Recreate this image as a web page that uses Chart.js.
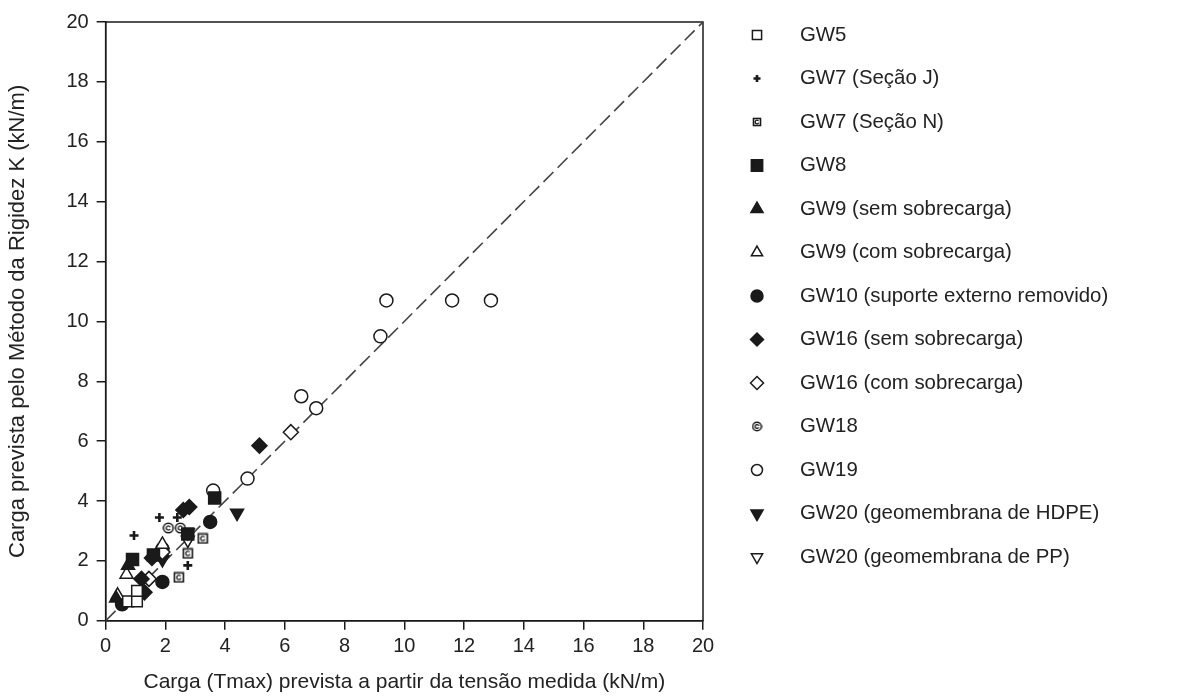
<!DOCTYPE html>
<html>
<head>
<meta charset="utf-8">
<script src="https://cdn.jsdelivr.net/npm/chart.js@4.4.1/dist/chart.umd.min.js"></script>
<style>
  html, body { margin: 0; padding: 0; background: #fff; }
  #wrap { width: 1179px; height: 697px; }
</style>
</head>
<body>
<div id="wrap"><canvas id="scatter"></canvas></div>
<script>
// series labels (legend order)
const seriesNames = [
  "GW5",
  "GW7 (Seção J)",
  "GW7 (Seção N)",
  "GW8",
  "GW9 (sem sobrecarga)",
  "GW9 (com sobrecarga)",
  "GW10 (suporte externo removido)",
  "GW16 (sem sobrecarga)",
  "GW16 (com sobrecarga)",
  "GW18",
  "GW19",
  "GW20 (geomembrana de HDPE)",
  "GW20 (geomembrana de PP)"
];

// [Tmax from strain, K-stiffness prediction] in kN/m
const gw5 = [[0.75, 0.65], [1.05, 0.65], [1.05, 1.0]];
const gw7J = [[0.95, 2.85], [1.8, 3.45], [2.4, 3.45], [2.75, 1.85]];
const gw7N = [[2.45, 1.45], [2.75, 2.25], [3.25, 2.75]];
const gw8 = [[0.9, 2.05], [2.75, 2.9], [3.65, 4.1], [1.6, 2.2]];
const gw9Sem = [[0.75, 1.85], [0.35, 0.75]];
const gw9Com = [[0.7, 1.55], [0.4, 0.85], [1.9, 2.55]];
const gw10 = [[1.9, 1.3], [3.5, 3.3], [0.55, 0.55]];
const gw16Sem = [[1.55, 2.1], [1.3, 0.95], [1.2, 1.4], [2.8, 3.8], [2.6, 3.7], [5.15, 5.85]];
const gw16Com = [[1.45, 1.4], [6.2, 6.3], [1.9, 2.3]];
const gw18 = [[2.1, 3.1], [2.5, 3.1]];
const gw19 = [[9.4, 10.7], [11.6, 10.7], [12.9, 10.7], [9.2, 9.5], [6.55, 7.5], [7.05, 7.1], [4.75, 4.75], [3.6, 4.35], [1.9, 2.4]];
const gw20HDPE = [[4.4, 3.6], [2.75, 2.95], [1.9, 2.05]];
const gw20PP = [[2.75, 2.7], [1.9, 2.15]];

// 1:1 reference line
const identityLine = [[0, 0], [20, 20]];
const tickValues = [0, 2, 4, 6, 8, 10, 12, 14, 16, 18, 20];

const INK = "#1a1a1a";

// little drawn symbols for the two patterned markers
function boxIcon(size) {
  const c = document.createElement("canvas");
  c.width = c.height = size;
  const g = c.getContext("2d");
  g.fillStyle = "#fff";
  g.fillRect(1, 1, size - 2, size - 2);
  g.strokeStyle = INK;
  g.lineWidth = 1.6;
  g.strokeRect(1.5, 1.5, size - 3, size - 3);
  g.lineWidth = 1.3;
  g.beginPath();
  g.arc(size / 2, size / 2, size * 0.18, 0.4, Math.PI * 1.8);
  g.stroke();
  return c;
}
function ringIcon(size) {
  const c = document.createElement("canvas");
  c.width = c.height = size;
  const g = c.getContext("2d");
  g.fillStyle = "#fff";
  g.strokeStyle = INK;
  g.lineWidth = 1.5;
  g.beginPath();
  g.arc(size / 2, size / 2, size / 2 - 1.2, 0, Math.PI * 2);
  g.fill();
  g.stroke();
  g.lineWidth = 1.2;
  g.beginPath();
  g.arc(size / 2, size / 2, size * 0.17, 0.5, Math.PI * 1.9);
  g.stroke();
  return c;
}

const pts = arr => arr.map(p => ({ x: p[0], y: p[1] }));

// marker look for each series, in legend order
const markers = [
  { data: gw5, style: "rect", r: 7.5, fill: "#fff", lr: 6.5 },
  { data: gw7J, style: "cross", r: 4.5, fill: INK, bw: 2.6, lr: 3.5 },
  { data: gw7N, style: boxIcon(12), icon: boxIcon(10) },
  { data: gw8, style: "rect", r: 8.5, fill: INK, lr: 8 },
  { data: gw9Sem, style: "triangle", r: 7.5, fill: INK, lr: 7 },
  { data: gw9Com, style: "triangle", r: 7.5, fill: "#fff", lr: 6.5 },
  { data: gw10, style: "circle", r: 6.5, fill: INK, lr: 6 },
  { data: gw16Sem, style: "rectRot", r: 7.5, fill: INK, lr: 6.5 },
  { data: gw16Com, style: "rectRot", r: 7.5, fill: "#fff", lr: 6.5 },
  { data: gw18, style: ringIcon(12), icon: ringIcon(11) },
  { data: gw19, style: "circle", r: 6.5, fill: "#fff", lr: 5.5 },
  { data: gw20HDPE, style: "triangle", rot: 180, r: 7.5, fill: INK, lr: 7 },
  { data: gw20PP, style: "triangle", rot: 180, r: 7.5, fill: "#fff", lr: 6.5 }
];

const datasets = markers.map((m, i) => ({
  type: "scatter",
  label: seriesNames[i],
  data: pts(m.data),
  pointStyle: m.style,
  rotation: m.rot || 0,
  pointRadius: m.r || 6,
  pointHoverRadius: m.r || 6,
  backgroundColor: m.fill || "#fff",
  borderColor: INK,
  pointBorderWidth: m.bw || 1.5,
  order: 0
}));

datasets.push({
  type: "line",
  label: "1:1",
  data: pts(identityLine),
  borderColor: "#444",
  borderWidth: 1.6,
  borderDash: [14, 6],
  pointRadius: 0,
  fill: false,
  order: 10
});

// right-hand key, drawn on the canvas
const keyPlugin = {
  id: "sideKey",
  afterDraw(chart) {
    const ctx = chart.ctx;
    ctx.save();
    ctx.font = "20.4px 'Liberation Sans', Arial, sans-serif";
    ctx.textBaseline = "middle";
    ctx.textAlign = "left";
    markers.forEach((m, i) => {
      const y = 35 + i * 43.5;
      const x = 757;
      ctx.fillStyle = m.fill || "#fff";
      ctx.strokeStyle = INK;
      ctx.lineWidth = m.bw || 1.5;
      Chart.helpers.drawPoint(ctx, {
        pointStyle: m.icon || m.style,
        rotation: m.rot || 0,
        radius: m.lr || 6,
        borderWidth: m.bw || 1.5
      }, x, y);
      ctx.fillStyle = "#222";
      ctx.fillText(seriesNames[i], 800, y);
    });
    ctx.restore();
  }
};

// closes the box on top and right
const framePlugin = {
  id: "frame",
  beforeDatasetsDraw(chart) {
    const a = chart.chartArea;
    const ctx = chart.ctx;
    ctx.save();
    ctx.strokeStyle = INK;
    ctx.lineWidth = 1.5;
    ctx.strokeRect(a.left, a.top, a.right - a.left, a.bottom - a.top);
    ctx.restore();
  }
};

const tickFont = { family: "'Liberation Sans', Arial, sans-serif", size: 20 };

new Chart(document.getElementById("scatter"), {
  type: "scatter",
  data: { datasets },
  plugins: [framePlugin, keyPlugin],
  options: {
    responsive: true,
    maintainAspectRatio: false,
    animation: false,
    layout: { padding: { top: 22, right: 476, bottom: 0, left: 3 } },
    plugins: { legend: { display: false }, tooltip: { enabled: false } },
    scales: {
      x: {
        type: "linear",
        min: 0,
        max: 20,
        afterBuildTicks: s => { s.ticks = tickValues.map(v => ({ value: v })); },
        ticks: { font: tickFont, color: "#222", padding: 5, maxRotation: 0 },
        grid: { drawOnChartArea: false, drawTicks: true, tickLength: 9, color: INK, lineWidth: 1.5 },
        border: { display: true, color: INK, width: 1.5 },
        title: {
          display: true,
          text: "Carga (Tmax) prevista a partir da tensão medida (kN/m)",
          font: { family: "'Liberation Sans', Arial, sans-serif", size: 21 },
          color: "#222",
          padding: { top: 6, bottom: 2 }
        }
      },
      y: {
        type: "linear",
        min: 0,
        max: 20,
        afterBuildTicks: s => { s.ticks = tickValues.map(v => ({ value: v })); },
        ticks: { font: tickFont, color: "#222", padding: 8 },
        grid: { drawOnChartArea: false, drawTicks: true, tickLength: 9, color: INK, lineWidth: 1.5 },
        border: { display: true, color: INK, width: 1.5 },
        title: {
          display: true,
          text: "Carga prevista pelo Método da Rigidez K (kN/m)",
          font: { family: "'Liberation Sans', Arial, sans-serif", size: 22 },
          color: "#222",
          padding: { top: 2, bottom: 27 }
        }
      }
    }
  }
});
</script>
</body>
</html>
